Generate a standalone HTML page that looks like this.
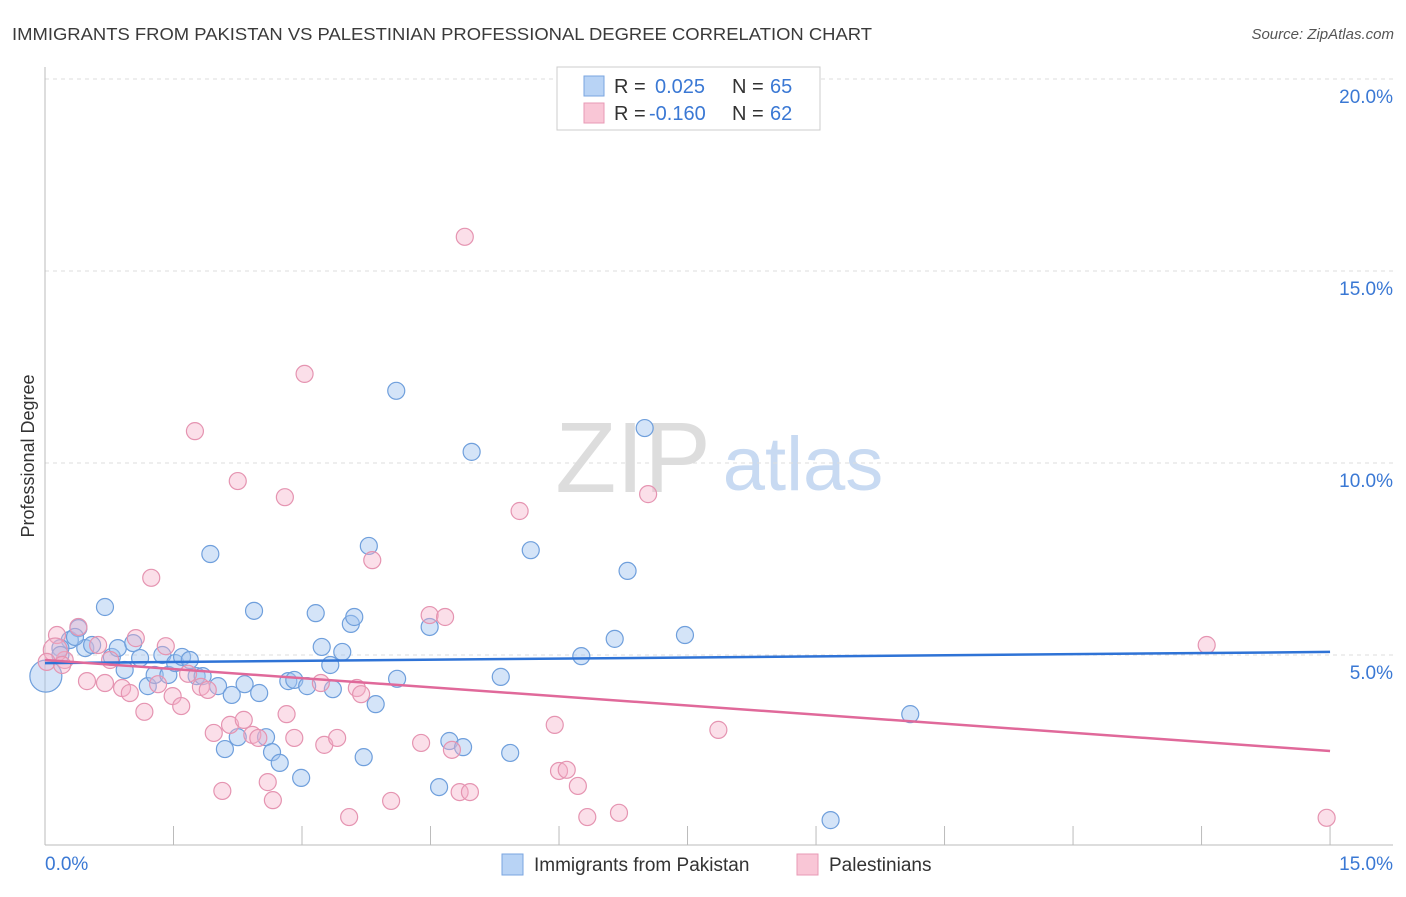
<!DOCTYPE html>
<html><head><meta charset="utf-8"><style>
body{margin:0;background:#fff;font-family:"Liberation Sans",sans-serif;}
svg text{font-family:"Liberation Sans",sans-serif;}
</style></head><body>
<svg id="c" width="1406" height="892" xmlns="http://www.w3.org/2000/svg">
<text x="12" y="40" font-size="17.5" fill="#3a3a3a" textLength="860" lengthAdjust="spacingAndGlyphs">IMMIGRANTS FROM PAKISTAN VS PALESTINIAN PROFESSIONAL DEGREE CORRELATION CHART</text>
<text x="1394" y="39" font-size="15" fill="#555" font-style="italic" text-anchor="end">Source: ZipAtlas.com</text>
<text x="34" y="456" font-size="18" fill="#333" text-anchor="middle" transform="rotate(-90 34 456)">Professional Degree</text>
<g><text x="633" y="492" font-size="100" fill="#ddd" font-family="Liberation Serif" text-anchor="middle">ZIP</text><text x="803" y="490" font-size="76" fill="#c8daf2" text-anchor="middle">atlas</text></g>
<g id="grid"></g>
<g id="axes"></g>
<g id="pts"></g>
<g id="lines"></g>
<g>
<rect x="557" y="67" width="263" height="63" fill="#fff" stroke="#ccc"/>
<rect x="584" y="76" width="20" height="20" fill="#b8d3f5" stroke="#7aa6e0"/>
<rect x="584" y="103" width="20" height="20" fill="#f9c6d6" stroke="#e89ab5"/>
<text x="614" y="93" font-size="20" fill="#333">R = <tspan fill="#3a78d4" x="655">0.025</tspan><tspan fill="#333" x="732">N =</tspan><tspan fill="#3a78d4" x="770">65</tspan></text>
<text x="614" y="120" font-size="20" fill="#333">R = <tspan fill="#3a78d4" x="649">-0.160</tspan><tspan fill="#333" x="732">N =</tspan><tspan fill="#3a78d4" x="770">62</tspan></text>
</g>
<g>
<rect x="502" y="854" width="21" height="21" fill="#b8d3f5" stroke="#7aa6e0"/>
<text x="534" y="871" font-size="19" fill="#333">Immigrants from Pakistan</text>
<rect x="797" y="854" width="21" height="21" fill="#f9c6d6" stroke="#e89ab5"/>
<text x="829" y="871" font-size="19" fill="#333">Palestinians</text>
</g>
</svg>
<script>
const blueX=[0.70,0.29,0.18,0.39,0.47,0.55,0.78,0.85,0.93,1.03,1.11,1.20,1.28,1.37,1.44,1.52,1.60,1.69,1.77,1.84,1.93,2.02,2.10,2.18,2.25,2.33,2.44,2.50,2.58,2.65,2.74,2.84,2.91,2.99,3.06,3.16,3.23,3.33,3.36,3.47,3.57,3.61,3.72,3.78,3.86,4.10,4.11,4.49,4.60,4.72,4.88,4.98,5.32,5.43,5.67,6.26,6.65,6.80,7.00,7.47,9.17,10.10,0.01,0.18,0.35];
const blueY=[6.25,5.39,5.18,5.70,5.18,5.26,4.95,5.18,4.61,5.31,4.92,4.19,4.48,5.00,4.48,4.79,4.95,4.87,4.45,4.45,7.63,4.19,2.55,3.96,2.86,4.24,6.15,4.01,2.86,2.47,2.19,4.32,4.35,1.80,4.19,6.09,5.21,4.74,4.11,5.08,5.81,5.99,2.34,7.84,3.72,11.88,4.38,5.73,1.56,2.76,2.60,10.29,4.43,2.45,7.73,4.97,5.42,7.19,10.91,5.52,0.70,3.46,4.45,5.00,5.47];
const pinkX=[0.14,0.23,0.39,0.49,0.62,0.70,0.90,0.99,1.06,1.16,1.24,1.32,1.41,1.49,1.59,1.67,1.75,1.82,1.90,1.97,2.07,2.16,2.25,2.32,2.42,2.49,2.60,2.66,2.80,2.82,2.91,3.03,3.22,3.26,3.41,3.55,3.64,3.69,3.82,4.04,4.39,4.49,4.67,4.75,4.84,4.90,4.96,5.54,5.95,6.00,6.09,6.22,6.33,6.70,7.04,7.86,13.56,14.96,0.12,0.02,0.20,0.76];
const pinkY=[5.52,4.87,5.73,4.32,5.26,4.27,4.14,4.01,5.44,3.52,7.01,4.24,5.23,3.93,3.67,4.51,10.83,4.17,4.09,2.97,1.46,3.18,9.53,3.31,2.92,2.84,1.69,1.22,9.11,3.46,2.84,12.32,4.27,2.66,2.84,0.78,4.14,3.98,7.47,1.20,2.71,6.04,5.99,2.53,1.43,15.89,1.43,8.75,3.18,1.98,2.01,1.59,0.78,0.89,9.19,3.05,5.26,0.76,5.13,4.82,4.74,4.87];
const blueLine=[4.79,5.08];
const pinkLine=[4.87,2.50];
const xTicks=[0,1.5,3,4.5,6,7.5,9,10.5,12,13.5,15];
const yTicks=[5,10,15,20];
const yTickLabels=["5.0%","10.0%","15.0%","20.0%"];
const xTickLabels=["0.0%","15.0%"];

const NS="http://www.w3.org/2000/svg";
const X=v=>45+v*85.67, Y=v=>847-v*38.4;
function mk(p,t,a){const e=document.createElementNS(NS,t);for(const k in a)e.setAttribute(k,a[k]);p.appendChild(e);return e;}
const grid=document.getElementById('grid'),axes=document.getElementById('axes'),pts=document.getElementById('pts'),lines=document.getElementById('lines');
yTicks.forEach((t,i)=>{
 const l=mk(grid,'line',{x1:45,x2:1393,y1:Y(t),y2:Y(t),stroke:'#ddd','stroke-dasharray':'4,4'});
 
 
 const tx=mk(axes,'text',{x:1393,y:Y(t)+24,'font-size':19,fill:'#3a78d4','text-anchor':'end'});
 tx.textContent=yTickLabels[i];
 
 
});
let ax=mk(axes,'line',{x1:45,x2:45,y1:67,y2:845,stroke:'#bbb'});


ax=mk(axes,'line',{x1:45,x2:1393,y1:845,y2:845,stroke:'#bbb'});


xTicks.forEach(t=>{
 const l=mk(axes,'line',{x1:X(t),x2:X(t),y1:826,y2:845,stroke:'#bbb'});
 
 
});
let t1=mk(axes,'text',{x:45,y:870,'font-size':19,fill:'#3a78d4'});t1.textContent=xTickLabels[0];


let t2=mk(axes,'text',{x:1393,y:870,'font-size':19,fill:'#3a78d4','text-anchor':'end'});t2.textContent=xTickLabels[1];


function dots(xs,ys,fill,stroke,name,bigIdx,bigR){xs.forEach((x,i)=>{
 const r=(i===bigIdx)?bigR:8.5;
 const c=mk(pts,'circle',{cx:X(x),cy:Y(ys[i]),r:r,fill:fill,stroke:stroke,'stroke-width':1.2});
 
 
});}
dots(blueX,blueY,'rgba(160,195,240,0.45)','#6f9fdc','point-pakistan',62,16);
dots(pinkX,pinkY,'rgba(245,175,200,0.4)','#e594b1','point-palestinians',58,12);
let bl=mk(lines,'line',{x1:X(0),y1:Y(blueLine[0]),x2:X(15),y2:Y(blueLine[1]),stroke:'#2f73d6','stroke-width':2.5});


let pl=mk(lines,'line',{x1:X(0),y1:Y(pinkLine[0]),x2:X(15),y2:Y(pinkLine[1]),stroke:'#e0699a','stroke-width':2.5});


</script>
</body></html>
